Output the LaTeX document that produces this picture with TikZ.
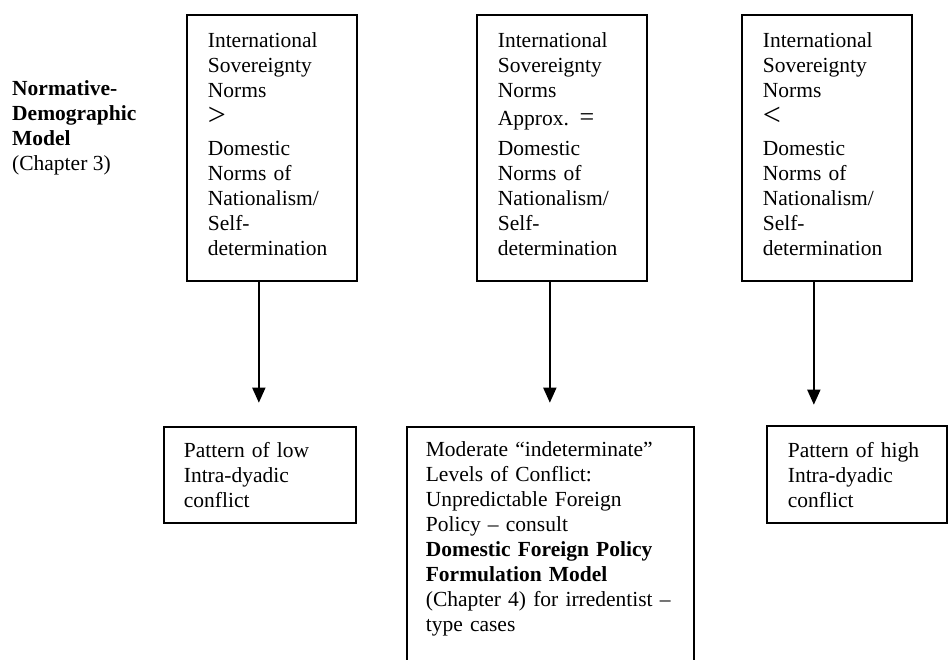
\documentclass[tikz,border=0pt]{standalone}
\usepackage{fontspec}
\setmainfont{Liberation Serif}
\usetikzlibrary{arrows.meta}

\begin{document}
\begin{tikzpicture}[x=1pt,y=-1pt]
\tikzstyle{every node}+=[inner sep=0pt, font=\fontsize{21.5}{25}\selectfont]
\tikzstyle{normbox}=[draw, line width=1.7pt, anchor=north west, align=left, inner xsep=21pt, text width=128pt, text height=33pt, text depth=233pt]
\tikzstyle{outbox}=[draw, line width=1.7pt, anchor=north west, align=left]
\tikzstyle{arr}=[line width=1.7pt, -{Triangle[length=15pt,width=13pt]}]
\clip (0,0) rectangle (950,660);
\node [anchor=base west, align=left] (model) at (12,171) {\textbf{Normative-}\\ \textbf{Demographic}\\ \textbf{Model}\\ (Chapter 3)};
\node [normbox] (norm1) at (186,14) {International\\ Sovereignty\\ Norms\\[3pt] {\fontsize{32}{25}\selectfont >}\\[5pt] Domestic\\ Norms of\\ Nationalism/\\ Self-\\ determination};
\node [normbox] (norm2) at (476,14) {International\\ Sovereignty\\ Norms\\[3pt] Approx. {\fontsize{26}{25}\selectfont =}\\[5pt] Domestic\\ Norms of\\ Nationalism/\\ Self-\\ determination};
\node [normbox] (norm3) at (741,14) {International\\ Sovereignty\\ Norms\\[3pt] {\fontsize{32}{25}\selectfont <}\\[5pt] Domestic\\ Norms of\\ Nationalism/\\ Self-\\ determination};
\node [outbox, inner xsep=20pt, text width=152pt, text height=31pt, text depth=65pt] (low) at (163,426) {Pattern of low\\ Intra-dyadic\\ conflict};
\node [outbox, inner xsep=19pt, text width=249pt, text height=30pt, text depth=260pt] (mid) at (406,426) {Moderate “indeterminate”\\ Levels of Conflict:\\ Unpredictable Foreign\\ Policy – consult\\ \textbf{Domestic Foreign Policy}\\ \textbf{Formulation Model}\\ (Chapter 4) for irredentist –\\ type cases};
\node [outbox, inner xsep=21pt, text width=138pt, text height=32pt, text depth=65pt] (high) at (766,425) {Pattern of high\\ Intra-dyadic\\ conflict};
\draw [arr] ([xshift=-13pt]norm1.south) -- +(0,121);
\draw [arr] ([xshift=-12pt]norm2.south) -- +(0,121);
\draw [arr] ([xshift=-13pt]norm3.south) -- +(0,123);
\end{tikzpicture}
\end{document}
